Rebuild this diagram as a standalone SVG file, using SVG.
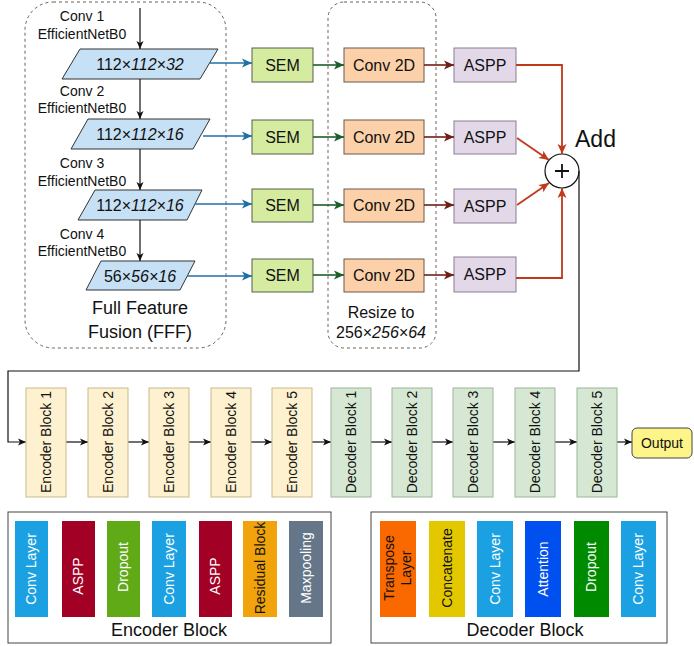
<svg xmlns="http://www.w3.org/2000/svg" width="694" height="646" viewBox="0 0 694 646">
<defs>
<style>
text{font-family:"Liberation Sans",Arial,sans-serif;fill:#111}
.dash{fill:none;stroke:#6e6150;stroke-width:1;stroke-dasharray:3,3}
.para{fill:#c6e0f5;stroke:#333;stroke-width:1}
.sem{fill:#d4eba0;stroke:#55604a;stroke-width:1}
.cv{fill:#fcd0a8;stroke:#6a5a4a;stroke-width:1}
.aspp{fill:#e2d8e8;stroke:#8b7d92;stroke-width:1}
.enc{fill:#fdf1cf;stroke:#c9b98a;stroke-width:1}
.dec{fill:#d6e8d4;stroke:#9ab596;stroke-width:1}
.lbl{font-size:14px;text-anchor:middle}
.box16{font-size:16px;text-anchor:middle}
.wt{fill:#fff;font-size:14px;text-anchor:middle}
.bk{fill:#111;font-size:14px;text-anchor:middle}
.k{stroke:#111;stroke-width:1.2;fill:none}
.bl{stroke:#1f6fa6;stroke-width:1.6;fill:none}
.gr{stroke:#1d5e2a;stroke-width:1.6;fill:none}
.br{stroke:#6e1f14;stroke-width:1.6;fill:none}
.rd{stroke:#c0391b;stroke-width:1.8;fill:none}
</style>
<marker id="mk" markerWidth="10" markerHeight="10" refX="9" refY="5" orient="auto" markerUnits="userSpaceOnUse"><path d="M1,1.5 L9,5 L1,8.5 L3,5 Z" fill="#111"/></marker>
<marker id="mb" markerWidth="12" markerHeight="12" refX="11" refY="6" orient="auto" markerUnits="userSpaceOnUse"><path d="M1,1.5 L11,6 L1,10.5 L3.5,6 Z" fill="#1f6fa6"/></marker>
<marker id="mg" markerWidth="12" markerHeight="12" refX="11" refY="6" orient="auto" markerUnits="userSpaceOnUse"><path d="M1,1.5 L11,6 L1,10.5 L3.5,6 Z" fill="#1d5e2a"/></marker>
<marker id="mr" markerWidth="12" markerHeight="12" refX="11" refY="6" orient="auto" markerUnits="userSpaceOnUse"><path d="M1,1.5 L11,6 L1,10.5 L3.5,6 Z" fill="#6e1f14"/></marker>
<marker id="mo" markerWidth="12" markerHeight="12" refX="11" refY="6" orient="auto" markerUnits="userSpaceOnUse"><path d="M1,1.5 L11,6 L1,10.5 L3.5,6 Z" fill="#c0391b"/></marker>
</defs>
<rect width="694" height="646" fill="#fff"/>

<g id="fff-group">
<rect class="dash" x="25" y="2" width="201" height="346" rx="28"/>
<text x="140" y="314" font-size="18" text-anchor="middle">Full Feature</text>
<text x="140" y="338" font-size="18" text-anchor="middle">Fusion (FFF)</text>
</g>
<g id="resize-group">
<rect class="dash" x="328" y="2" width="108" height="346" rx="16"/>
<text x="381" y="318" class="box16">Resize to</text>
<text x="381" y="338" class="box16">256×<tspan font-style="italic">256×64</tspan></text>
</g>

<g id="labels">
<text class="lbl" x="82" y="21">Conv 1</text>
<text class="lbl" x="82" y="39">EfficientNetB0</text>
<text class="lbl" x="82" y="96">Conv 2</text>
<text class="lbl" x="82" y="113">EfficientNetB0</text>
<text class="lbl" x="82" y="168">Conv 3</text>
<text class="lbl" x="82" y="186">EfficientNetB0</text>
<text class="lbl" x="82" y="239">Conv 4</text>
<text class="lbl" x="82" y="256">EfficientNetB0</text>
</g>

<g id="p1"><polygon class="para" points="80,49 218,49 200,79 62,79"/><text class="box16" x="140" y="70">112×<tspan font-style="italic">112×32</tspan></text></g>
<g id="p2"><polygon class="para" points="88,119 210,119 193,149 71,149"/><text class="box16" x="140" y="140">112×<tspan font-style="italic">112×16</tspan></text></g>
<g id="p3"><polygon class="para" points="95,190 202,190 187,220 78,220"/><text class="box16" x="140" y="211">112×<tspan font-style="italic">112×16</tspan></text></g>
<g id="p4"><polygon class="para" points="101,261 195,261 180,290 86,290"/><text class="box16" x="140" y="282">56×<tspan font-style="italic">56×16</tspan></text></g>

<g id="sem1"><rect class="sem" x="252" y="48" width="61" height="34"/><text class="box16" x="282.5" y="71">SEM</text></g>
<g id="sem2"><rect class="sem" x="252" y="120" width="61" height="34"/><text class="box16" x="282.5" y="143">SEM</text></g>
<g id="sem3"><rect class="sem" x="252" y="189" width="61" height="33"/><text class="box16" x="282.5" y="211">SEM</text></g>
<g id="sem4"><rect class="sem" x="252" y="259" width="61" height="33"/><text class="box16" x="282.5" y="281">SEM</text></g>

<g id="cv1"><rect class="cv" x="344" y="48" width="80" height="34"/><text class="box16" x="384" y="71">Conv 2D</text></g>
<g id="cv2"><rect class="cv" x="344" y="120" width="80" height="34"/><text class="box16" x="384" y="143">Conv 2D</text></g>
<g id="cv3"><rect class="cv" x="344" y="189" width="80" height="33"/><text class="box16" x="384" y="211">Conv 2D</text></g>
<g id="cv4"><rect class="cv" x="344" y="259" width="80" height="33"/><text class="box16" x="384" y="281">Conv 2D</text></g>

<g id="aspp1"><rect class="aspp" x="454" y="48" width="62" height="34"/><text class="box16" x="485" y="71">ASPP</text></g>
<g id="aspp2"><rect class="aspp" x="454" y="121" width="62" height="33"/><text class="box16" x="485" y="143">ASPP</text></g>
<g id="aspp3"><rect class="aspp" x="454" y="189" width="62" height="34"/><text class="box16" x="485" y="212">ASPP</text></g>
<g id="aspp4"><rect class="aspp" x="454" y="257" width="62" height="35"/><text class="box16" x="485" y="280">ASPP</text></g>

<g id="add">
<circle cx="562" cy="171" r="17" fill="#fff" stroke="#111" stroke-width="1.2"/>
<path d="M555,171 H569 M562,164 V178" stroke="#111" stroke-width="1.8"/>
<text x="575" y="147" font-size="23">Add</text>
</g>

<g id="connectors">
<path class="k" d="M140,8 V49" marker-end="url(#mk)"/>
<path class="k" d="M140,79 V119" marker-end="url(#mk)"/>
<path class="k" d="M140,149 V190" marker-end="url(#mk)"/>
<path class="k" d="M140,220 V261" marker-end="url(#mk)"/>
<path class="bl" d="M210,63 H252" marker-end="url(#mb)"/>
<path class="bl" d="M203,136 H252" marker-end="url(#mb)"/>
<path class="bl" d="M195,204 H252" marker-end="url(#mb)"/>
<path class="bl" d="M187,276 H252" marker-end="url(#mb)"/>
<path class="gr" d="M313,65 H344" marker-end="url(#mg)"/>
<path class="gr" d="M313,137 H344" marker-end="url(#mg)"/>
<path class="gr" d="M313,205 H344" marker-end="url(#mg)"/>
<path class="gr" d="M313,275 H344" marker-end="url(#mg)"/>
<path class="br" d="M424,65 H454" marker-end="url(#mr)"/>
<path class="br" d="M424,137 H454" marker-end="url(#mr)"/>
<path class="br" d="M424,205 H454" marker-end="url(#mr)"/>
<path class="br" d="M424,275 H454" marker-end="url(#mr)"/>
<path class="rd" d="M516,65 H562 V154" marker-end="url(#mo)"/>
<path class="rd" d="M517,138 L549,160" marker-end="url(#mo)"/>
<path class="rd" d="M517,205 L549,183" marker-end="url(#mo)"/>
<path class="rd" d="M516,278 H562 V188" marker-end="url(#mo)"/>
<path class="k" d="M579,171 V371 H8 V442 H26" marker-end="url(#mk)"/>
<path class="k" d="M66,442 H88" marker-end="url(#mk)"/>
<path class="k" d="M128,442 H149" marker-end="url(#mk)"/>
<path class="k" d="M189,442 H211" marker-end="url(#mk)"/>
<path class="k" d="M251,442 H272" marker-end="url(#mk)"/>
<path class="k" d="M312,442 H331" marker-end="url(#mk)"/>
<path class="k" d="M371,442 H392" marker-end="url(#mk)"/>
<path class="k" d="M432,442 H453" marker-end="url(#mk)"/>
<path class="k" d="M493,442 H515" marker-end="url(#mk)"/>
<path class="k" d="M555,442 H577" marker-end="url(#mk)"/>
<path class="k" d="M617,442 H632" marker-end="url(#mk)"/>
</g>

<g id="enc1"><rect class="enc" x="26" y="388" width="40" height="109"/><text class="lbl" transform="translate(51,442) rotate(-90)">Encoder Block 1</text></g>
<g id="enc2"><rect class="enc" x="88" y="388" width="40" height="109"/><text class="lbl" transform="translate(113,442) rotate(-90)">Encoder Block 2</text></g>
<g id="enc3"><rect class="enc" x="149" y="388" width="40" height="109"/><text class="lbl" transform="translate(174,442) rotate(-90)">Encoder Block 3</text></g>
<g id="enc4"><rect class="enc" x="211" y="388" width="40" height="109"/><text class="lbl" transform="translate(236,442) rotate(-90)">Encoder Block 4</text></g>
<g id="enc5"><rect class="enc" x="272" y="388" width="40" height="109"/><text class="lbl" transform="translate(297,442) rotate(-90)">Encoder Block 5</text></g>
<g id="dec1"><rect class="dec" x="331" y="388" width="40" height="109"/><text class="lbl" transform="translate(356,442) rotate(-90)">Decoder Block 1</text></g>
<g id="dec2"><rect class="dec" x="392" y="388" width="40" height="109"/><text class="lbl" transform="translate(417,442) rotate(-90)">Decoder Block 2</text></g>
<g id="dec3"><rect class="dec" x="453" y="388" width="40" height="109"/><text class="lbl" transform="translate(478,442) rotate(-90)">Decoder Block 3</text></g>
<g id="dec4"><rect class="dec" x="515" y="388" width="40" height="109"/><text class="lbl" transform="translate(540,442) rotate(-90)">Decoder Block 4</text></g>
<g id="dec5"><rect class="dec" x="577" y="388" width="40" height="109"/><text class="lbl" transform="translate(602,442) rotate(-90)">Decoder Block 5</text></g>
<g id="output"><rect x="632" y="428" width="60" height="30" rx="5" fill="#fdf58a" stroke="#444" stroke-width="1"/><text class="lbl" x="662" y="448">Output</text></g>

<g id="encoder-legend">
<rect x="8" y="512" width="323" height="131" fill="#fff" stroke="#444" stroke-width="1"/>
<rect x="15" y="521" width="33" height="96" fill="#1ba1e2"/><text class="wt" transform="translate(36,569) rotate(-90)">Conv Layer</text>
<rect x="62" y="521" width="33" height="96" fill="#a20025"/><text class="wt" transform="translate(83,576) rotate(-90)">ASPP</text>
<rect x="107" y="521" width="33" height="96" fill="#60a917"/><text class="wt" transform="translate(128,567) rotate(-90)">Dropout</text>
<rect x="152" y="521" width="34" height="96" fill="#1ba1e2"/><text class="wt" transform="translate(174,569) rotate(-90)">Conv Layer</text>
<rect x="199" y="521" width="33" height="96" fill="#a20025"/><text class="wt" transform="translate(220,576) rotate(-90)">ASPP</text>
<rect x="243" y="521" width="34" height="96" fill="#f0a30a"/><text class="bk" transform="translate(265,568) rotate(-90)">Residual Block</text>
<rect x="289" y="521" width="34" height="96" fill="#647687"/><text class="wt" transform="translate(311,568) rotate(-90)">Maxpooling</text>
<text x="169" y="636" font-size="18" text-anchor="middle">Encoder Block</text>
</g>

<g id="decoder-legend">
<rect x="371" y="512" width="296" height="131" fill="#fff" stroke="#444" stroke-width="1"/>
<rect x="380" y="521" width="36" height="96" fill="#fa6800"/><text class="bk" transform="translate(394,568) rotate(-90)">Transpose</text><text class="bk" transform="translate(411,568) rotate(-90)">Layer</text>
<rect x="429" y="521" width="36" height="96" fill="#e3c800"/><text class="bk" transform="translate(452,568) rotate(-90)">Concatenate</text>
<rect x="477" y="521" width="36" height="96" fill="#1ba1e2"/><text class="wt" transform="translate(500,569) rotate(-90)">Conv Layer</text>
<rect x="525" y="521" width="36" height="96" fill="#0050ef"/><text class="wt" transform="translate(548,569) rotate(-90)">Attention</text>
<rect x="574" y="521" width="35" height="96" fill="#008a00"/><text class="wt" transform="translate(596,567) rotate(-90)">Dropout</text>
<rect x="621" y="521" width="35" height="96" fill="#1ba1e2"/><text class="wt" transform="translate(643,569) rotate(-90)">Conv Layer</text>
<text x="525" y="636" font-size="18" text-anchor="middle">Decoder Block</text>
</g>
</svg>
